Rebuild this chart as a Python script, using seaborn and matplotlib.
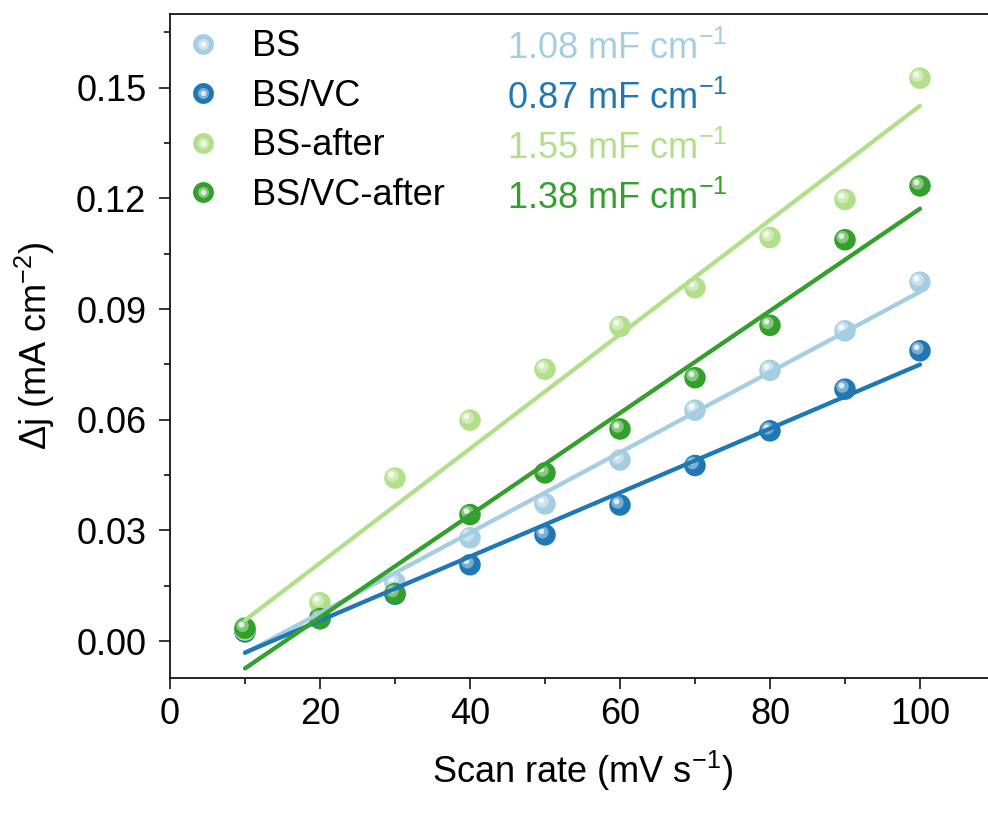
import numpy as np
import seaborn as sns
import matplotlib.pyplot as plt
from matplotlib.lines import Line2D
from matplotlib.legend_handler import HandlerTuple
from matplotlib.transforms import offset_copy

scan_rate = [10, 20, 30, 40, 50, 60, 70, 80, 90, 100]
bs = [0.0027, 0.0067, 0.0159, 0.0280, 0.0372, 0.0491, 0.0626, 0.0734, 0.0841, 0.0973]
bs_vc = [0.0025, 0.0061, 0.0127, 0.0207, 0.0288, 0.0369, 0.0476, 0.0570, 0.0683, 0.0787]
bs_after = [0.0030, 0.0104, 0.0442, 0.0599, 0.0737, 0.0853, 0.0958, 0.1094, 0.1197, 0.1526]
bs_vc_after = [0.0035, 0.0061, 0.0129, 0.0343, 0.0456, 0.0575, 0.0714, 0.0856, 0.1088, 0.1234]

labels = ["BS", "BS/VC", "BS-after", "BS/VC-after"]
cdl_text = ["1.08 mF cm$^{-1}$", "0.87 mF cm$^{-1}$", "1.55 mF cm$^{-1}$", "1.38 mF cm$^{-1}$"]
series = [bs, bs_vc, bs_after, bs_vc_after]
colors = sns.color_palette("Paired", 4)

sns.set_style("ticks")
plt.rcParams['font.family'] = ['Liberation Sans', 'DejaVu Sans']
plt.rcParams['mathtext.fontset'] = 'custom'
plt.rcParams['mathtext.rm'] = 'Liberation Sans'
plt.rcParams['mathtext.it'] = 'Liberation Sans:italic'
plt.rcParams['text.color'] = 'black'
plt.rcParams['axes.labelcolor'] = 'black'
plt.rcParams['xtick.color'] = 'black'
plt.rcParams['ytick.color'] = 'black'

FS = 26

fig = plt.figure(figsize=(9.88, 8.14), dpi=100)
ax = fig.add_axes([170 / 988, 1 - 678 / 814, 825 / 988, (678 - 14) / 814])


def lighten(c, f):
    return tuple(1 - (1 - v) * (1 - f) for v in c)


hl_tr = offset_copy(ax.transData, fig=fig, x=-2.5, y=2.5, units='dots')
hl_tr2 = offset_copy(ax.transData, fig=fig, x=-3.5, y=3.5, units='dots')

# glossy sphere markers
for y, c in zip(series, colors):
    sns.scatterplot(x=scan_rate, y=y, ax=ax, s=240, color=c, edgecolor='none', zorder=3)
    sns.scatterplot(x=scan_rate, y=y, ax=ax, s=80, color=lighten(c, 0.4), edgecolor='none',
                    zorder=3, transform=hl_tr)
    sns.scatterplot(x=scan_rate, y=y, ax=ax, s=18, color=lighten(c, 0.85), edgecolor='none',
                    zorder=3, transform=hl_tr2)

# linear fits
for y, c in zip(series, colors):
    sns.regplot(x=np.array(scan_rate), y=np.array(y), ax=ax, scatter=False, ci=None,
                color=c, truncate=True, line_kws={'lw': 3.1, 'zorder': 4})

ax.set_xlim(0, 110)
ax.set_ylim(-0.01, 0.17)
ax.set_xticks([0, 20, 40, 60, 80, 100])
ax.set_xticks(np.arange(10, 111, 20), minor=True)
ax.set_yticks([0.00, 0.03, 0.06, 0.09, 0.12, 0.15])
ax.set_yticks(np.arange(0.015, 0.17, 0.03), minor=True)
ax.set_yticklabels(["0.00", "0.03", "0.06", "0.09", "0.12", "0.15"])
ax.tick_params(which='major', length=8, width=1.1, labelsize=FS, direction='out', pad=6)
ax.tick_params(axis='y', which='major', pad=9)
ax.tick_params(which='minor', length=4, width=1.1, direction='out')
for s in ax.spines.values():
    s.set_linewidth(1.2)
    s.set_color('black')

ax.set_xlabel("Scan rate (mV s$^{-1}$)", fontsize=FS, labelpad=12)
ax.set_ylabel("Δj (mA cm$^{-2}$)", fontsize=FS, labelpad=14)

handles = []
for c in colors:
    base = Line2D([], [], ls='none', marker='o', ms=15, mfc=c, mec='none')
    hl = Line2D([], [], ls='none', marker='o', ms=8, mfc=lighten(c, 0.4), mec='none')
    dot = Line2D([], [], ls='none', marker='o', ms=4, mfc=lighten(c, 0.85), mec='none')
    handles.append((base, hl, dot))
ax.legend(handles, labels, handler_map={tuple: HandlerTuple(ndivide=1, pad=0)},
          loc='upper left', bbox_to_anchor=(-0.012, 1.015), frameon=False, fontsize=FS,
          handlelength=1.0, handletextpad=0.85, labelspacing=0.4, borderaxespad=0.3)

for i, (t, c) in enumerate(zip(cdl_text, colors)):
    ax.text(0.408, 0.948 - i * 0.0755, t, transform=ax.transAxes, color=c,
            fontsize=FS, ha='left', va='center')

plt.savefig("out.png", dpi=100)
